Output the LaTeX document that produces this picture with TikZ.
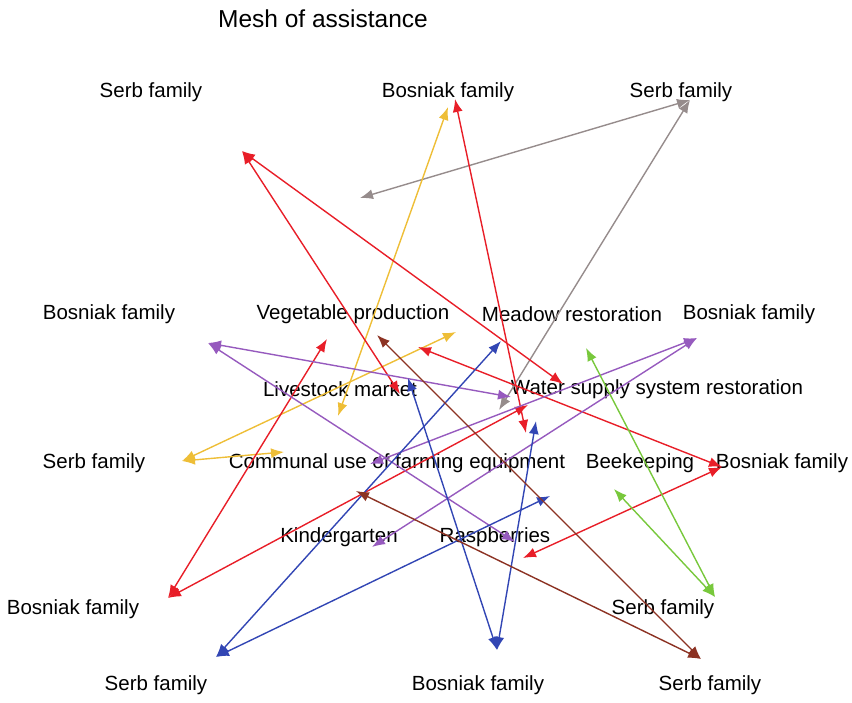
\documentclass[tikz,border=0pt]{standalone}
\usepackage{fontspec}
\setmainfont{Liberation Sans}
\definecolor{mred}{RGB}{232,30,40}
\definecolor{myellow}{RGB}{238,190,55}
\definecolor{mgray}{RGB}{150,140,140}
\definecolor{mpurple}{RGB}{150,90,190}
\definecolor{mblue}{RGB}{50,70,180}
\definecolor{mbrown}{RGB}{140,50,35}
\definecolor{mgreen}{RGB}{120,200,60}
\usetikzlibrary{arrows.meta,positioning}

\begin{document}
\begin{tikzpicture}[x=1pt,y=-1pt,
  meshlabel/.style={inner sep=0pt,font=\fontsize{20.5}{24}\selectfont},
  meshlink/.style={{Latex[length=13pt,width=10pt]}-{Latex[length=13pt,width=10pt]},line width=1.4pt}
]
  \useasboundingbox (0,0) rectangle (852,702);
  \node[meshlabel,font=\fontsize{24.5}{28}\selectfont] (title) at (323,19) {Mesh of assistance};
  % families and projects
  \node[meshlabel] (serb1) at (151,92) {Serb family};
  \node[meshlabel] (bosn1) at (448,92) {Bosniak family};
  \node[meshlabel] (serb2) at (681,92) {Serb family};
  \node[meshlabel] (bosn2) at (109,314) {Bosniak family};
  \node[meshlabel] (veg) at (353,314) {Vegetable production};
  \node[meshlabel] (meadow) at (572,314) {Meadow restoration};
  \node[meshlabel] (bosn3) at (749,314) {Bosniak family};
  \node[meshlabel] (livestock) at (340,389) {Livestock market};
  \node[meshlabel] (water) at (657,389) {Water supply system restoration};
  \node[meshlabel] (serb3) at (94,463) {Serb family};
  \node[meshlabel] (communal) at (397,463) {Communal use of farming equipment};
  \node[meshlabel] (bees) at (640,463) {Beekeeping};
  \node[meshlabel] (bosn4) at (782,463) {Bosniak family};
  \node[meshlabel] (kinder) at (339,537) {Kindergarten};
  \node[meshlabel] (rasp) at (495,537) {Raspberries};
  \node[meshlabel] (bosn5) at (73,609) {Bosniak family};
  \node[meshlabel] (serb4) at (663,609) {Serb family};
  \node[meshlabel] (serb5) at (156,685) {Serb family};
  \node[meshlabel] (bosn6) at (478,685) {Bosniak family};
  \node[meshlabel] (serb6) at (710,685) {Serb family};
  % link ends
  \coordinate (gA) at (690,100);
  \coordinate (gB) at (360,198);
  \coordinate (gC) at (499,410);
  \coordinate (yA) at (448,107);
  \coordinate (yB) at (338,416);
  \coordinate (yC) at (182,461);
  \coordinate (yD) at (456,332);
  \coordinate (yE) at (284,452);
  \coordinate (rA) at (242,151);
  \coordinate (rB) at (400,394);
  \coordinate (rC) at (563,384);
  \coordinate (rD) at (455,99);
  \coordinate (rE) at (526,433);
  \coordinate (rF) at (168,598);
  \coordinate (rG) at (327,339);
  \coordinate (rH) at (528,405);
  \coordinate (rI) at (722,467);
  \coordinate (rJ) at (418,347);
  \coordinate (rK) at (523,558);
  \coordinate (pA) at (208,343);
  \coordinate (pB) at (511,397);
  \coordinate (pC) at (515,542);
  \coordinate (pD) at (697,338);
  \coordinate (pE) at (370,464);
  \coordinate (pF) at (372,547);
  \coordinate (bA) at (216,657);
  \coordinate (bB) at (501,341);
  \coordinate (bC) at (550,496);
  \coordinate (bD) at (497,650);
  \coordinate (bE) at (408,378);
  \coordinate (bF) at (536,421);
  \coordinate (nA) at (701,659);
  \coordinate (nB) at (377,335);
  \coordinate (nC) at (356,491);
  \coordinate (eA) at (715,597);
  \coordinate (eB) at (586,348);
  \coordinate (eC) at (614,489);
  % gray
  \draw[meshlink,mgray] (gB) -- (gA);
  \draw[meshlink,mgray] (gC) -- (gA);
  % yellow
  \draw[meshlink,myellow] (yB) -- (yA);
  \draw[meshlink,myellow] (yC) -- (yD);
  \draw[meshlink,myellow] (yC) -- (yE);
  % red
  \draw[meshlink,mred] (rA) -- (rB);
  \draw[meshlink,mred] (rA) -- (rC);
  \draw[meshlink,mred] (rD) -- (rE);
  \draw[meshlink,mred] (rF) -- (rG);
  \draw[meshlink,mred] (rF) -- (rH);
  \draw[meshlink,mred] (rJ) -- (rI);
  \draw[meshlink,mred] (rK) -- (rI);
  % purple
  \draw[meshlink,mpurple] (pA) -- (pB);
  \draw[meshlink,mpurple] (pA) -- (pC);
  \draw[meshlink,mpurple] (pE) -- (pD);
  \draw[meshlink,mpurple] (pF) -- (pD);
  % blue
  \draw[meshlink,mblue] (bA) -- (bB);
  \draw[meshlink,mblue] (bA) -- (bC);
  \draw[meshlink,mblue] (bE) -- (bD);
  \draw[meshlink,mblue] (bF) -- (bD);
  % brown
  \draw[meshlink,mbrown] (nB) -- (nA);
  \draw[meshlink,mbrown] (nC) -- (nA);
  % green
  \draw[meshlink,mgreen] (eB) -- (eA);
  \draw[meshlink,mgreen] (eC) -- (eA);
\end{tikzpicture}
\end{document}
